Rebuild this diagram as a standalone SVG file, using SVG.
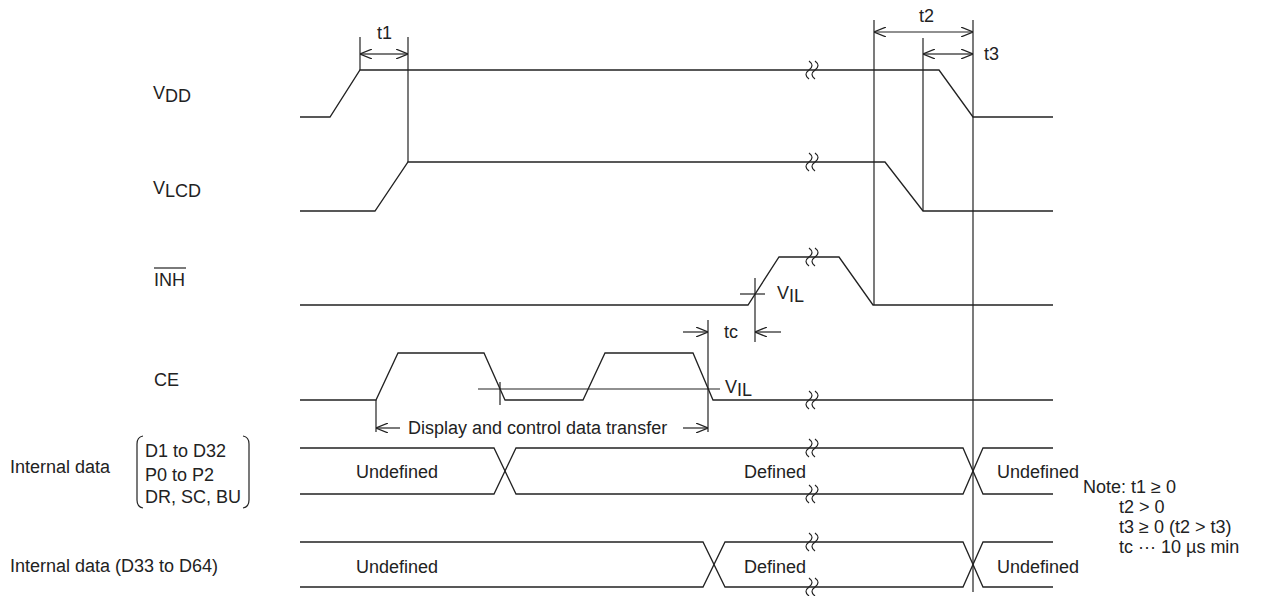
<svg xmlns="http://www.w3.org/2000/svg" width="1269" height="596" viewBox="0 0 1269 596">
<style>
.w{fill:none;stroke:#222;stroke-width:1.3}
.d{fill:none;stroke:#222;stroke-width:1.2}
.a{fill:none;stroke:#222;stroke-width:1.2;marker-end:url(#ah)}
text{font-family:"Liberation Sans",Arial,sans-serif;font-size:18px;fill:#222}
.m{text-anchor:middle}
</style>
<defs>
<marker id="ah" viewBox="0 0 12 10" refX="12" refY="5" markerWidth="12" markerHeight="10" markerUnits="userSpaceOnUse" orient="auto">
<path d="M0,0 L12,5 L0,10" fill="none" stroke="#222" stroke-width="1.2"/>
</marker>
<path id="brk" d="M-3,-9 c4,3 4,6 0,9 c-4,3 -4,6 0,9 M3,-9 c4,3 4,6 0,9 c-4,3 -4,6 0,9" fill="none" stroke="#222" stroke-width="1.2"/>
</defs>
<rect width="1269" height="596" fill="#fff"/>

<g id="vdd">
<text x="153" y="99">V<tspan dy="3">DD</tspan></text>
<path class="w" d="M300,117 H330 L360,70 H939 L973,117 H1053"/>
<use href="#brk" x="812" y="70"/>
</g>

<g id="vlcd">
<text x="153" y="194">V<tspan dy="3">LCD</tspan></text>
<path class="w" d="M300,211 H375 L408,162 H885 L923,211 H1053"/>
<use href="#brk" x="812" y="162"/>
</g>

<g id="inh">
<text x="154" y="286">INH</text>
<line class="d" x1="154" y1="268" x2="186" y2="268"/>
<path class="w" d="M300,305 H748 L779,257 H839 L873,305 H1053"/>
<use href="#brk" x="812" y="257"/>
<line class="d" x1="740" y1="294" x2="765" y2="294"/>
<text x="777" y="299">V<tspan dy="3">IL</tspan></text>
</g>

<g id="ce">
<text x="154" y="386">CE</text>
<path class="w" d="M300,400 H376 L398,353 H484 L505,400 H583 L605,353 H693 L713,400 H1053"/>
<use href="#brk" x="812" y="400"/>
<line class="d" x1="478" y1="389" x2="720" y2="389"/>
<line class="d" x1="500" y1="382" x2="500" y2="405"/>
<text x="725" y="393">V<tspan dy="3">IL</tspan></text>
<text x="408" y="434">Display and control data transfer</text>
</g>

<g id="data1">
<text x="10" y="473">Internal data</text>
<path class="d" d="M143,436 Q137,437 137,444 V500 Q137,507 143,508"/>
<path class="d" d="M243,436 Q249,437 249,444 V500 Q249,507 243,508"/>
<text x="145" y="457">D1 to D32</text>
<text x="145" y="481">P0 to P2</text>
<text x="145" y="503">DR, SC, BU</text>
<path class="w" d="M300,448 H494 L516,494 H963 L983,448 H1053"/>
<path class="w" d="M300,494 H494 L516,448 H963 L983,494 H1053"/>
<use href="#brk" x="812" y="448"/>
<use href="#brk" x="812" y="494"/>
<text class="m" x="397" y="478">Undefined</text>
<text class="m" x="775" y="478">Defined</text>
<text x="997" y="478">Undefined</text>
</g>

<g id="data2">
<text x="10" y="572">Internal data (D33 to D64)</text>
<path class="w" d="M300,542 H703 L725,587 H963 L983,542 H1053"/>
<path class="w" d="M300,587 H703 L725,542 H963 L983,587 H1053"/>
<use href="#brk" x="812" y="542"/>
<use href="#brk" x="812" y="587"/>
<text class="m" x="397" y="573">Undefined</text>
<text class="m" x="775" y="573">Defined</text>
<text x="997" y="573">Undefined</text>
</g>

<g id="note">
<text x="1083" y="493">Note: t1 ≥ 0</text>
<text x="1119" y="513">t2 &gt; 0</text>
<text x="1119" y="533">t3 ≥ 0 (t2 &gt; t3)</text>
<text x="1119" y="553">tc ··· 10 µs min</text>
</g>

<g id="connectors">
<line class="d" x1="360" y1="37" x2="360" y2="70"/>
<line class="d" x1="408" y1="37" x2="408" y2="162"/>
<line class="a" x1="384" y1="54" x2="360" y2="54"/>
<line class="a" x1="384" y1="54" x2="408" y2="54"/>
<text x="377" y="39">t1</text>

<line class="d" x1="874" y1="20" x2="874" y2="305"/>
<line class="d" x1="973" y1="20" x2="973" y2="592"/>
<line class="a" x1="924" y1="32" x2="874" y2="32"/>
<line class="a" x1="924" y1="32" x2="973" y2="32"/>
<text x="919" y="22">t2</text>

<line class="d" x1="923" y1="38" x2="923" y2="211"/>
<line class="a" x1="948" y1="54" x2="923" y2="54"/>
<line class="a" x1="948" y1="54" x2="973" y2="54"/>
<text x="984" y="60">t3</text>

<line class="d" x1="755" y1="278" x2="755" y2="342"/>
<line class="d" x1="708" y1="320" x2="708" y2="432"/>
<line class="a" x1="683" y1="332" x2="708" y2="332"/>
<line class="a" x1="781" y1="332" x2="755" y2="332"/>
<text x="724" y="338">tc</text>

<line class="d" x1="376" y1="400" x2="376" y2="432"/>
<line class="a" x1="400" y1="428" x2="376" y2="428"/>
<line class="a" x1="683" y1="428" x2="708" y2="428"/>
</g>
</svg>
